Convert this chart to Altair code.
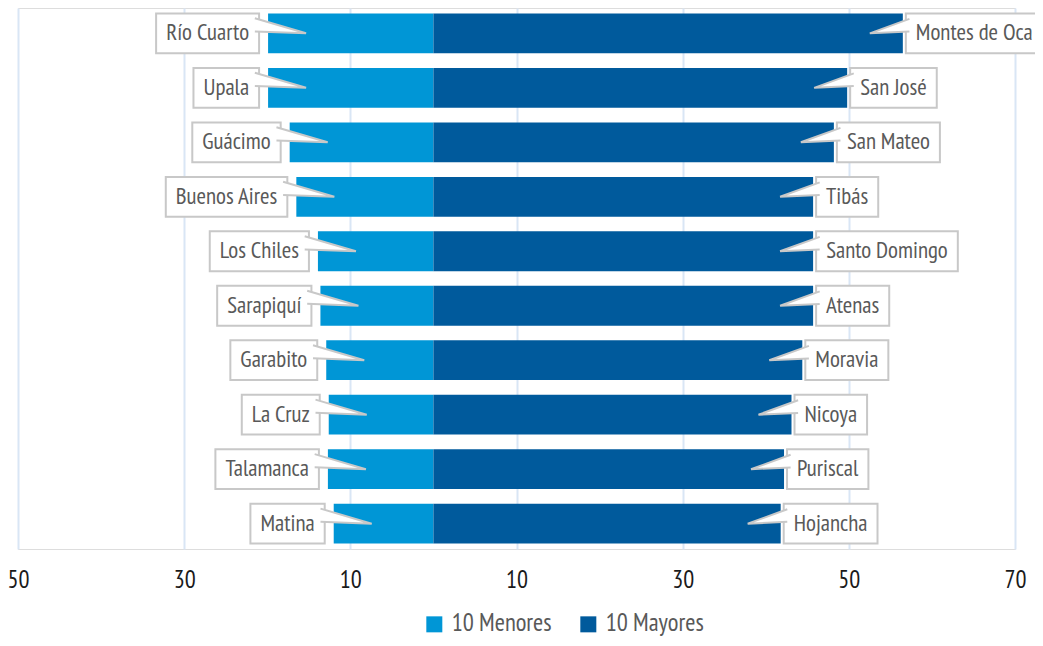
import altair as alt
import pandas as pd
import glob, os

# ---- data ----
menores_names = ["Río Cuarto", "Upala", "Guácimo", "Buenos Aires", "Los Chiles",
                 "Sarapiquí", "Garabito", "La Cruz", "Talamanca", "Matina"]
menores_vals = [19.9, 19.9, 17.3, 16.5, 13.9, 13.6, 12.9, 12.6, 12.7, 12.0]
mayores_names = ["Montes de Oca", "San José", "San Mateo", "Tibás", "Santo Domingo",
                 "Atenas", "Moravia", "Nicoya", "Puriscal", "Hojancha"]
mayores_vals = [56.5, 49.8, 48.2, 45.7, 45.7, 45.7, 44.4, 43.1, 42.2, 41.8]
series = ["10 Menores", "10 Mayores"]
tick_vals = [-50, -30, -10, 10, 30, 50, 70]

# ---- font selection / text measuring ----
font_files = []
for d in ["/usr/share/fonts", "/usr/local/share/fonts",
          os.path.expanduser("~/.fonts"), os.path.expanduser("~/.local/share/fonts")]:
    font_files += glob.glob(d + "/**/*.*", recursive=True)
prefs = ["PTSansNarrow-Regular.ttf", "PT_Sans-Narrow-Web-Regular.ttf",
         "AsapCondensed-Regular.ttf", "RobotoCondensed-Regular.ttf",
         "LiberationSansNarrow-Regular.ttf", "DejaVuSansCondensed.ttf"]
FAMILY, measure = None, None
try:
    from PIL import ImageFont
    for p in prefs:
        hits = [f for f in font_files if os.path.basename(f) == p]
        if hits:
            fnt = ImageFont.truetype(hits[0], 100)
            FAMILY = fnt.getname()[0]
            measure = lambda s, fnt=fnt: fnt.getlength(s) / 100.0
            break
except Exception:
    measure = None
if measure is None:
    FAMILY = "DejaVu Sans Condensed"
    measure = lambda s: len(s) * 0.52
FONT = FAMILY + ", DejaVu Sans Condensed, sans-serif"


def fit_size(s, px, lo, hi):
    return max(lo, min(hi, px / measure(s)))


FS = fit_size("Montes de Oca", 117, 16, 27)
AXFS = fit_size("50", 22, 16, 25)
LGFS = fit_size("10 Menores", 100, 16, 25)

# ---- styling ----
LIGHT = "#0096D6"
DARK = "#005A9C"
GRID = "#D9E6F5"
BOX = "#C8C8C8"
TXT = "#595959"
W, H = 997, 541
DOM = [-50, 70]
K = (DOM[1] - DOM[0]) / W  # data units per pixel
PAD = 20  # inner padding of label boxes (both sides together)

rows = []
for i, (n, v) in enumerate(zip(menores_names, menores_vals)):
    bw = (measure(n) * FS + PAD) * K
    right = -v - 9 * K
    rows.append(dict(row=i, name=n, group=series[0], value=v, end=-v,
                     bx=right - bw, bx2=right, tx=right - bw / 2,
                     tip=-v + 38 * K))
for i, (n, v) in enumerate(zip(mayores_names, mayores_vals)):
    bw = (measure(n) * FS + PAD) * K
    left = v + 3 * K
    rows.append(dict(row=i, name=n, group=series[1], value=v, end=v,
                     bx=left, bx2=left + bw, tx=left + bw / 2,
                     tip=v - 33 * K))
df = pd.DataFrame(rows)
df["zero"] = 0

xscale = alt.Scale(domain=DOM, nice=False, zero=False)
yscale = alt.Scale(paddingInner=0.27, paddingOuter=0.1)
Y = alt.Y("row:O", scale=yscale, axis=None)

base = alt.Chart(df)

bars = base.mark_bar().encode(
    x=alt.X("end:Q", scale=xscale,
            axis=alt.Axis(values=tick_vals, labelExpr="abs(datum.value)", title=None,
                          grid=True, gridColor=GRID, gridWidth=2, domain=False,
                          ticks=False, tickSize=0, labelPadding=31, labelFlush=False,
                          labelBaseline="middle", labelFont=FONT, labelFontSize=AXFS,
                          labelColor="#1a1a1a", labelOverlap=False)),
    x2="zero:Q",
    y=Y,
    color=alt.Color("group:N",
                    scale=alt.Scale(domain=series, range=[LIGHT, DARK]),
                    legend=alt.Legend(title=None, orient="none", legendX=404, legendY=604,
                                      direction="horizontal", symbolType="square",
                                      symbolSize=256, symbolStrokeWidth=0,
                                      labelFont=FONT, labelFontSize=LGFS, labelColor=TXT,
                                      columnPadding=24, labelOffset=5, padding=0)),
)

boxes = base.mark_rect(fill="white", stroke=BOX, strokeWidth=2).encode(
    x=alt.X("bx:Q", scale=xscale), x2="bx2:Q", y=Y)

left_wedge = base.transform_filter(alt.datum.group == series[0]).mark_point(
    shape="M-1.09,-0.32L0,0L-1.09,-0.04", size=94 * 94, filled=True,
    fill="white", stroke=BOX, strokeWidth=2, opacity=1).encode(
    x=alt.X("tip:Q", scale=xscale), y=Y)

right_wedge = base.transform_filter(alt.datum.group == series[1]).mark_point(
    shape="M1.1,-0.4L0,0L1.1,-0.05", size=72 * 72, filled=True,
    fill="white", stroke=BOX, strokeWidth=2, opacity=1).encode(
    x=alt.X("tip:Q", scale=xscale), y=Y)

labels = base.mark_text(font=FONT, fontSize=FS, color=TXT, baseline="middle",
                        align="center").encode(
    x=alt.X("tx:Q", scale=xscale), y=Y, text="name:N")

chart = alt.layer(bars, boxes, left_wedge, right_wedge, labels).properties(
    width=W, height=H,
    autosize=alt.AutoSizeParams(type="none"),
    padding={"left": 10, "top": 0, "right": 20, "bottom": 89},
).configure_view(stroke=None).configure(background="white")

chart.save("out.html", embed_options={"renderer": "svg", "actions": False})
